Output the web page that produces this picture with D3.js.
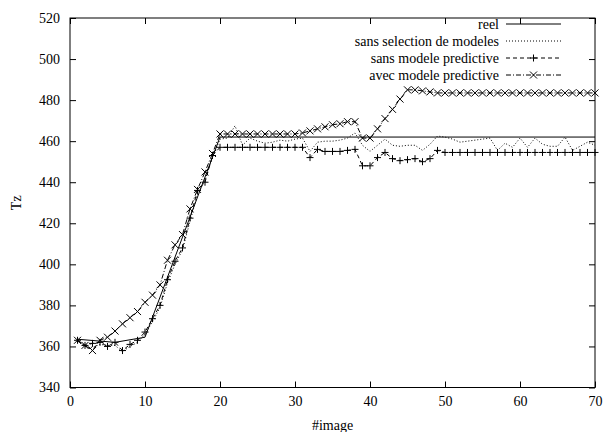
<!DOCTYPE html>
<html><head><meta charset="utf-8">
<script src="https://cdn.jsdelivr.net/npm/d3@7"></script>
<style>
body{margin:0;background:#fff}
svg{display:block}
text{font-family:"Liberation Serif","Times New Roman",Times,serif;font-size:14px;fill:#000}
</style>
</head><body>
<svg id="c" width="605" height="432"></svg>
<script>
// ---------- data ----------
const xTicks = [0, 10, 20, 30, 40, 50, 60, 70];
const yTicks = [340, 360, 380, 400, 420, 440, 460, 480, 500, 520];
const seriesNames = ["reel", "sans selection de modeles", "sans modele predictive", "avec modele predictive"];

const reelImages = [1, 6, 10, 20, 70];
const reelValues = [363.5, 362, 364.5, 462, 462];

const images = [1,2,3,4,5,6,7,8,9,10,11,12,13,14,15,16,17,18,19,20,
  21,22,23,24,25,26,27,28,29,30,31,32,33,34,35,36,37,38,39,40,
  41,42,43,44,45,46,47,48,49,50,51,52,53,54,55,56,57,58,59,60,
  61,62,63,64,65,66,67,68,69,70];

const sansSelection = [
  362.5,360,359.5,361,360.5,360.5,357.5,360,362,366,
  372,379,391,400,407,421,434,441,452,461,
  461.5,467.5,458,461.5,460,459,459.5,460.5,460,461,
  461.5,455,459.5,460,460,460.5,461.5,464,458,455,
  458,461,458,457.5,458,458,455.5,458.5,462.5,462,
  461,459.5,460,460.5,461,461.5,455.5,459,457,461.5,
  457,461.5,458.5,457.5,457.5,462,455.5,457.5,459.5,458];

const sansModelePred = [
  363,360.5,361.5,362,360,362,358,361,363,367,
  373.5,380,392.5,401.5,408,422.5,436,440,453,457,
  457,457,457,457,457,457,457,457,457,457,
  457,452,456,455,455,455,455.5,456,448,448,
  452,454.5,451.5,450.5,451,451.5,450,451.5,455.5,454.5,
  454.5,454.5,454.5,454.5,454.5,454.5,454.5,454.5,454.5,454.5,
  454.5,454.5,454.5,454.5,454.5,454.5,454.5,454.5,454.5,454.5];

const avecModelePred = [
  363,360.5,358,363,364.5,367.5,371,374,377,381.5,
  385,390,402,409.5,414.5,427,436.5,445,454,463.5,
  463.5,463.5,463.5,463.5,463.5,463.5,463.5,463.5,463.5,463.5,
  464,465,466,467,468,468.5,469.5,469.5,461.5,461.5,
  466,471,475.5,480.5,485,485,484.5,484,483.5,483.5,
  483.5,483.5,483.5,483.5,483.5,483.5,483.5,483.5,483.5,483.5,
  483.5,483.5,483.5,483.5,483.5,483.5,483.5,483.5,483.5,483.5];

// ---------- layout ----------
const L = 70, R = 595, T = 18, B = 387.5;
const FONT = '"Liberation Serif","Times New Roman",Times,serif';
const svg = d3.select("#c");
const x = d3.scaleLinear().domain([0, 70]).range([L, R]);
const y = d3.scaleLinear().domain([340, 520]).range([B, T]);

// axes (inward ticks, mirrored)
const gB = svg.append("g").attr("transform", `translate(0,${B})`)
  .call(d3.axisBottom(x).tickValues(xTicks).tickSizeInner(-6).tickSizeOuter(0).tickPadding(9));
const gL = svg.append("g").attr("transform", `translate(${L},0)`)
  .call(d3.axisLeft(y).tickValues(yTicks).tickSizeInner(-6).tickSizeOuter(0).tickPadding(10));
const gT = svg.append("g").attr("transform", `translate(0,${T})`)
  .call(d3.axisTop(x).tickValues(xTicks).tickSizeInner(-6).tickSizeOuter(0).tickFormat(""));
const gR = svg.append("g").attr("transform", `translate(${R},0)`)
  .call(d3.axisRight(y).tickValues(yTicks).tickSizeInner(-6).tickSizeOuter(0).tickFormat(""));
[gB, gL, gT, gR].forEach(g => {
  g.attr("font-family", FONT).attr("font-size", 14);
  g.select(".domain").remove();
  g.selectAll("line").attr("stroke", "#000");
});
svg.append("rect").attr("x", L).attr("y", T).attr("width", R - L).attr("height", B - T)
  .attr("fill", "none").attr("stroke", "#000").attr("stroke-width", 1);

// axis titles
svg.append("text").attr("x", (L + R) / 2).attr("y", 430).attr("text-anchor", "middle").text("#image");
svg.append("text").attr("transform", `translate(21,${(T + B) / 2}) rotate(-90)`)
  .attr("text-anchor", "middle").text("Tz");

// ---------- series ----------
const line = d3.line().x(d => x(d[0])).y(d => y(d[1]));
const plot = svg.append("g");

const reelPts = reelImages.map((v, i) => [v, reelValues[i]]);
const selPts = images.map((v, i) => [v, sansSelection[i]]);
const smpPts = images.map((v, i) => [v, sansModelePred[i]]);
const ampPts = images.map((v, i) => [v, avecModelePred[i]]);

const styles = [
  {dash: null, marker: null},
  {dash: "1,2", marker: null},
  {dash: "4,3", marker: "plus"},
  {dash: "5,2,1,2", marker: "cross"}
];
const allPts = [reelPts, selPts, smpPts, ampPts];

function drawMarker(g, type, cx, cy) {
  const s = 3.5;
  if (type === "plus") {
    g.append("path").attr("d", `M${cx - s},${cy}H${cx + s}M${cx},${cy - s}V${cy + s}`)
      .attr("stroke", "#000").attr("stroke-width", 1).attr("fill", "none");
  } else if (type === "cross") {
    g.append("path").attr("d", `M${cx - s},${cy - s}L${cx + s},${cy + s}M${cx - s},${cy + s}L${cx + s},${cy - s}`)
      .attr("stroke", "#000").attr("stroke-width", 1).attr("fill", "none");
  }
}

allPts.forEach((pts, k) => {
  plot.append("path").datum(pts).attr("d", line)
    .attr("fill", "none").attr("stroke", "#000").attr("stroke-width", 1)
    .attr("stroke-dasharray", styles[k].dash);
  if (styles[k].marker) {
    pts.forEach(p => drawMarker(plot, styles[k].marker, x(p[0]), y(p[1])));
  }
});

// ---------- legend ----------
const legTextX = 499, legX1 = 506, legX2 = 561;
const legY = [24, 41, 58, 75];
seriesNames.forEach((name, k) => {
  svg.append("text").attr("x", legTextX).attr("y", legY[k]).attr("dy", "0.35em")
    .attr("text-anchor", "end").text(name);
  svg.append("line").attr("x1", legX1).attr("x2", legX2).attr("y1", legY[k]).attr("y2", legY[k])
    .attr("stroke", "#000").attr("stroke-width", 1).attr("stroke-dasharray", styles[k].dash);
  if (styles[k].marker) drawMarker(svg, styles[k].marker, (legX1 + legX2) / 2, legY[k]);
});
</script>
</body></html>
